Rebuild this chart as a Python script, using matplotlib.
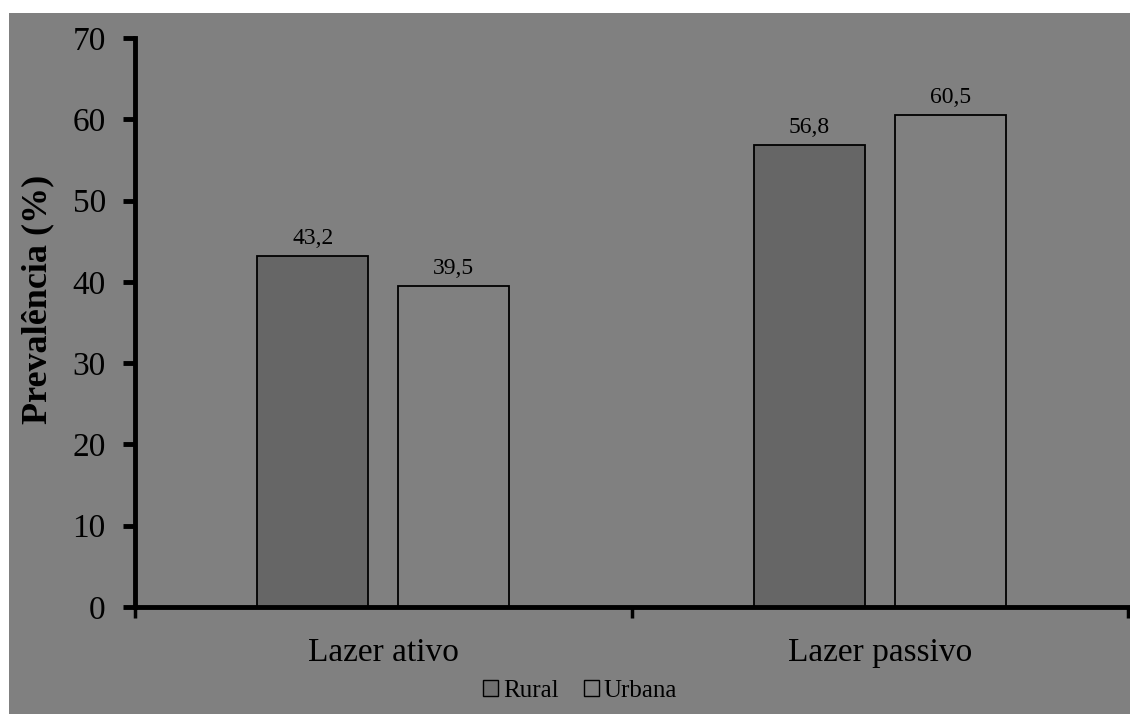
import numpy as np
import matplotlib.pyplot as plt
from matplotlib.patches import Rectangle, Patch

categories = ["Lazer ativo", "Lazer passivo"]
rural = [43.2, 56.8]
urbana = [39.5, 60.5]
series_names = ["Rural", "Urbana"]

bg = "#808080"
plt.rcParams['font.family'] = ['Liberation Serif', 'DejaVu Serif']

fig = plt.figure(figsize=(11.3, 7.14), dpi=100)
fig.patch.set_facecolor("white")
fig.patches.append(Rectangle((9/1130, 0), 1, 1 - 13/714, transform=fig.transFigure,
                             facecolor=bg, edgecolor="none", zorder=-10))

ax = fig.add_axes([135/1130, 1 - 607/714, 993/1130, (607 - 38)/714])
ax.set_facecolor(bg)

x = np.arange(len(categories))
w = 0.224
gap = 0.06
b1 = ax.bar(x - (w + gap)/2, rural, w, color="#666666", edgecolor="black", linewidth=1.3)
b2 = ax.bar(x + (w + gap)/2, urbana, w, color=bg, edgecolor="black", linewidth=1.3)

for bars, vals in ((b1, rural), (b2, urbana)):
    for r, v in zip(bars, vals):
        ax.text(r.get_x() + r.get_width()/2, v + 0.9, f"{v:.1f}".replace(".", ","),
                ha="center", va="bottom", fontsize=17)

ax.set_xlim(-0.5, 1.5)
ax.set_ylim(0, 70)
ax.set_yticks(range(0, 71, 10))
ax.tick_params(axis="y", labelsize=24, width=3.5, length=9, pad=12)
ax.set_xticks([-0.5, 0.5, 1.5])
ax.set_xticklabels([])
ax.set_xticks(x, minor=True)
ax.set_xticklabels(categories, minor=True, fontsize=24)
ax.tick_params(axis="x", which="major", width=2.5, length=8)
ax.tick_params(axis="x", which="minor", length=0, pad=22)

for s in ("top", "right"):
    ax.spines[s].set_visible(False)
for s in ("left", "bottom"):
    ax.spines[s].set_linewidth(3.5)

ax.set_ylabel("Prevalência (%)", fontsize=26, fontweight="bold")
ax.yaxis.set_label_coords(-0.081, 0.54)

handles = [Patch(facecolor="#707070", edgecolor="black", label=series_names[0]),
           Patch(facecolor=bg, edgecolor="black", label=series_names[1])]
fig.legend(handles=handles, loc="center", bbox_to_anchor=(580/1130, 1 - 691/714),
           ncol=2, frameon=False, fontsize=18, handlelength=0.6, handleheight=0.6,
           handletextpad=0.2, columnspacing=1.0)

fig.savefig("out.png", dpi=100, facecolor=fig.get_facecolor())
